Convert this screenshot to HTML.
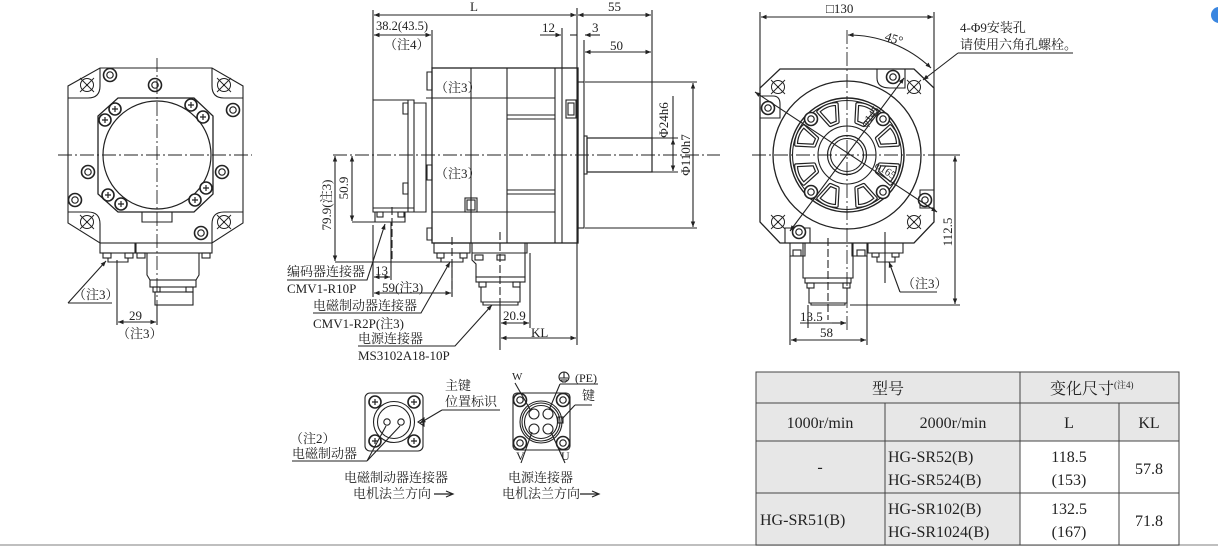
<!DOCTYPE html>
<html><head><meta charset="utf-8"><style>
html,body{margin:0;padding:0;background:#fff;}
svg{display:block;}
text{font-family:"Liberation Serif","Noto Serif CJK SC","Noto Sans CJK SC",serif;fill:#222;}
</style></head><body>
<svg width="1218" height="547" viewBox="0 0 1218 547" xmlns="http://www.w3.org/2000/svg">
<defs>
<marker id="a" viewBox="0 0 10 10" refX="10" refY="5" markerWidth="7" markerHeight="5" orient="auto-start-reverse"><path d="M0,1 L10,5 L0,9 z" fill="#222"/></marker>
<g id="bolt"><circle r="6.5" fill="#fff" stroke="#222" stroke-width="1.6"/><circle r="3.2" fill="none" stroke="#222" stroke-width="1.2"/></g>
<g id="sbolt"><circle r="6" fill="#fff" stroke="#222" stroke-width="1.6"/><path d="M-3,0H3M0,-3V3" stroke="#222" stroke-width="1.2"/></g>
<g id="xh"><circle r="6.5" fill="none" stroke="#222" stroke-width="1"/><path d="M-7,-7L7,7M-7,7L7,-7" stroke="#222" stroke-width="0.9"/><circle r="1" fill="#222"/></g>
<path id="win" d="M-4,-34 L4,-34 L10,-51 Q0,-55 -10,-51 Z"/>
</defs>
<g fill="none" stroke="#222" stroke-width="1.1">

<!-- ===== LEFT FRONT VIEW ===== -->
<path d="M100,68 H212 L243,86 V223 L212,243 H100 L68,223 V86 Z"/>
<path d="M100,68 V86 Q100,98 88,98 H68 M212,68 V86 Q212,98 224,98 H243 M68,212 H88 Q100,212 100,224 V243 M243,212 H224 Q212,212 212,224 V243"/>
<path d="M118,98 H194 L213,116 V194 L194,212 H118 L98,194 V116 Z" stroke-width="1.3"/>
<circle cx="157" cy="155" r="54" stroke-width="1.2"/>
<path d="M142,212 V222 H172 V212" />
<g stroke="none">
<use href="#xh" x="87" y="85"/><use href="#xh" x="224" y="85"/><use href="#xh" x="87" y="222"/><use href="#xh" x="224" y="222"/>
<use href="#bolt" x="110" y="75"/><use href="#bolt" x="155" y="85"/><use href="#bolt" x="233" y="110"/><use href="#bolt" x="88" y="172"/><use href="#bolt" x="222" y="172"/><use href="#bolt" x="75" y="200"/><use href="#bolt" x="201" y="233"/>
<use href="#sbolt" x="105" y="120"/><use href="#sbolt" x="115" y="109"/><use href="#sbolt" x="191" y="105"/><use href="#sbolt" x="203" y="117"/><use href="#sbolt" x="108" y="195"/><use href="#sbolt" x="121" y="204"/><use href="#sbolt" x="195" y="200"/><use href="#sbolt" x="206" y="188"/>
</g>
<rect x="100" y="243" width="35" height="10"/><rect x="103" y="253" width="8" height="5"/><rect x="125" y="253" width="8" height="5"/>
<path d="M108,258 V262 H128 V258"/>
<rect x="136" y="243" width="76" height="10"/><rect x="137" y="253" width="8" height="5"/><rect x="202" y="253" width="8" height="5"/>
<path d="M147,253 V275 L150,280 H196 L199,275 V253"/>
<rect x="150" y="280" width="46" height="7"/><rect x="153" y="287" width="7" height="5"/><rect x="186" y="287" width="7" height="5"/>
<rect x="155" y="292" width="38" height="13"/>
<path d="M157,58 V310 M58,155 H252" stroke-dasharray="14,3,2,3" stroke-width="0.9"/>
<path d="M117,260 V325 M157,305 V325"/>
<path d="M118,322 H156" marker-start="url(#a)" marker-end="url(#a)"/>
<path d="M68,303 H112 M68,303 L106,261" marker-end="url(#a)"/>

<!-- ===== SIDE VIEW ===== -->
<path d="M373,10 V100 M577,8 V345"/>
<path d="M374,15 H576" marker-start="url(#a)" marker-end="url(#a)"/>
<path d="M374,35 H431" marker-start="url(#a)" marker-end="url(#a)"/>
<path d="M432,30 V68"/>
<rect x="432" y="68" width="146" height="175" stroke-width="1.3"/>
<path d="M471,68 V243 M507,68 V243 M555,68 V243 M562,68 V243 M432,98 H555 M432,212 H555"/>
<path d="M507,115 H555 M507,119 H555 M507,190 H555 M507,194 H555"/>
<rect x="566" y="100" width="10" height="18"/><rect x="568" y="103" width="6" height="12"/>
<rect x="465" y="198" width="12" height="14"/><rect x="467" y="200" width="8" height="10"/>
<rect x="578" y="82" width="6" height="146"/>
<rect x="584" y="136" width="3" height="38"/>
<rect x="587" y="138" width="65" height="34" stroke-width="1.2"/>
<path d="M427,72 H432 V90 H427 Z M427,165 H432 V180 H427 Z M427,228 H432 V240 H427 Z"/>
<!-- encoder -->
<path d="M373,100 H414 V212 H373 Z" />
<path d="M408,100 V212 M414,103 H426 V212 H414 M426,98 H432"/>
<path d="M403,103 H408 V114 H403 Z M403,183 H408 V194 H403 Z"/>
<path d="M373,208 H414 M375,212 V222 H405 V212"/>
<rect x="377" y="212" width="6" height="5"/><rect x="398" y="212" width="6" height="5"/>
<path d="M392,207 V262" stroke-dasharray="8,3"/>
<!-- connectors under body -->
<rect x="434" y="243" width="36" height="10"/><rect x="437" y="253" width="7" height="5"/><rect x="460" y="253" width="7" height="5"/>
<path d="M441,258 V262 H463 V258"/>
<path d="M452,237 V296" stroke-dasharray="8,3"/>
<path d="M472,243 V253 H527 V243 M472,253 V260 L476,264 V277 H525 V243"/>
<rect x="475" y="255" width="8" height="5"/><rect x="497" y="255" width="8" height="5"/>
<rect x="476" y="277" width="49" height="5"/><rect x="479" y="282" width="7" height="5"/><rect x="513" y="282" width="7" height="5"/>
<path d="M481,287 V302 H520 V287"/><path d="M483,302 H518 V305 H483 Z"/>
<path d="M500,232 V305" stroke-dasharray="8,3"/>
<path d="M333,155 H720" stroke-dasharray="14,3,2,3" stroke-width="0.9"/>
<!-- 50.9 & 79.9 -->
<path d="M352,156 V221" marker-start="url(#a)" marker-end="url(#a)"/>
<path d="M352,222 H380"/>
<path d="M335,156 V261" marker-start="url(#a)" marker-end="url(#a)"/>
<path d="M335,262 H450"/>
<path d="M373,225 V297 M391,222 V280"/>
<path d="M374,277 H390" marker-start="url(#a)" marker-end="url(#a)"/>
<path d="M374,293 H451" marker-start="url(#a)" marker-end="url(#a)"/>
<path d="M452,262 V297"/>
<!-- leaders -->
<path d="M287,280 H367 L385,224" marker-end="url(#a)"/>
<path d="M313,313 H421 L450,262" marker-end="url(#a)"/>
<path d="M358,346 H455 L492,305" marker-end="url(#a)"/>
<!-- 20.9 KL -->
<path d="M500,305 V350 M530,253 V328"/>
<path d="M501,323 H529" marker-start="url(#a)" marker-end="url(#a)"/>
<path d="M501,338 H576" marker-start="url(#a)" marker-end="url(#a)"/>
<!-- right dims -->
<path d="M652,10 V138"/>
<path d="M578,15 H651" marker-start="url(#a)" marker-end="url(#a)"/>
<path d="M585,52 H651" marker-start="url(#a)" marker-end="url(#a)"/>
<path d="M562,28 V68 M584,40 V82"/>
<path d="M540,35 H561" marker-end="url(#a)"/><path d="M600,35 H585" marker-end="url(#a)"/><path d="M577,35 H570"/>
<path d="M652,138 H678 M652,172 H678 M585,82 H697 M585,228 H697"/>
<path d="M673,139 V171" marker-start="url(#a)" marker-end="url(#a)"/>
<path d="M673,96 V139"/>
<path d="M693,83 V227" marker-start="url(#a)" marker-end="url(#a)"/>

<!-- ===== RIGHT FRONT VIEW ===== -->
<path d="M780,69 H914 L934,88 V222 L914,243 H780 L760,222 V88 Z" stroke-width="1.3"/>
<path d="M877,69 V78 Q877,88 890,88 H905 V69 M760,96 H773 Q780,96 780,104 V118 H760 M785,243 V228 H810 V243 M934,190 H920 V208 H934"/>
<circle cx="847" cy="155" r="74" stroke-width="1.3"/>
<circle cx="847" cy="155" r="57" stroke-width="1.4"/>
<circle cx="847" cy="155" r="54.5" stroke-width="1.1"/>
<circle cx="847" cy="155" r="29"/>
<circle cx="847" cy="155" r="19.5" stroke-width="1.2"/>
<circle cx="847" cy="155" r="16.5"/>
<g transform="translate(847,155)">
<g stroke="#222" stroke-width="4" stroke-linejoin="round">
<use href="#win" transform="rotate(22.5)"/><use href="#win" transform="rotate(67.5)"/><use href="#win" transform="rotate(112.5)"/><use href="#win" transform="rotate(157.5)"/><use href="#win" transform="rotate(202.5)"/><use href="#win" transform="rotate(247.5)"/><use href="#win" transform="rotate(292.5)"/><use href="#win" transform="rotate(337.5)"/>
</g>
<g stroke="#fff" stroke-width="1.6" stroke-linejoin="round">
<use href="#win" transform="rotate(22.5)"/><use href="#win" transform="rotate(67.5)"/><use href="#win" transform="rotate(112.5)"/><use href="#win" transform="rotate(157.5)"/><use href="#win" transform="rotate(202.5)"/><use href="#win" transform="rotate(247.5)"/><use href="#win" transform="rotate(292.5)"/><use href="#win" transform="rotate(337.5)"/>
</g>
</g>
<g stroke="none">
<use href="#bolt" x="811" y="119"/><use href="#bolt" x="883" y="119"/><use href="#bolt" x="811" y="192"/><use href="#bolt" x="883" y="192"/>
<use href="#bolt" x="893" y="77"/><use href="#bolt" x="768" y="108"/><use href="#bolt" x="925" y="200"/><use href="#bolt" x="799" y="232"/>
<use href="#xh" x="778" y="87"/><use href="#xh" x="914" y="87"/><use href="#xh" x="778" y="222"/><use href="#xh" x="914" y="222"/>
</g>
<path d="M752,155 H936 M847,30 V330" stroke-dasharray="14,3,2,3" stroke-width="0.9"/>
<path d="M755,92 L937,212" marker-start="url(#a)" marker-end="url(#a)"/>
<path d="M790,231 L904,78" marker-start="url(#a)" marker-end="url(#a)"/>
<path d="M760,12 V88 M934,12 V88"/>
<path d="M761,17 H933" marker-start="url(#a)" marker-end="url(#a)"/>
<path d="M848,35 A120,120 0 0 1 931,68" marker-start="url(#a)" marker-end="url(#a)"/>
<path d="M958,53 H1073 M958,53 L923,80" marker-end="url(#a)"/>
<!-- bottom connectors right -->
<path d="M790,243 V256 H805 V243 M852,243 V256 H867 V243"/>
<rect x="793" y="250" width="8" height="6"/><rect x="857" y="250" width="8" height="6"/>
<path d="M803,243 V278 H853 V243"/>
<rect x="805" y="278" width="46" height="5"/><rect x="807" y="283" width="7" height="5"/><rect x="843" y="283" width="7" height="5"/>
<path d="M809,288 V303 H847 V288"/><path d="M811,303 H845 V305 H811 Z"/>
<path d="M828,238 V320" stroke-dasharray="8,3"/>
<path d="M868,243 V253 H903 V243"/><rect x="872" y="253" width="7" height="4"/><rect x="892" y="253" width="7" height="4"/>
<path d="M877,257 V262 H895 V257 M885,232 V283" />
<path d="M900,292 H937 M900,292 L889,262" marker-end="url(#a)"/>
<path d="M790,256 V345 M867,256 V345 M808,305 V328"/>
<path d="M791,340 H866" marker-start="url(#a)" marker-end="url(#a)"/>
<path d="M800,323 H846" />
<path d="M832,323 H846" marker-end="url(#a)"/>
<path d="M935,155 H960 M850,305 H960"/>
<path d="M955,156 V304" marker-start="url(#a)" marker-end="url(#a)"/>

<!-- ===== BOTTOM CONNECTOR DETAILS ===== -->
<rect x="365" y="393" width="58" height="58" rx="5"/>
<circle cx="394" cy="422" r="20.5"/><circle cx="394" cy="422" r="16.5"/>
<circle cx="387" cy="422" r="3.2"/><circle cx="401" cy="422" r="3.2"/>
<path d="M418,422 L424,418 L424,426 Z"/>
<g stroke="none"><use href="#sbolt" x="375" y="402"/><use href="#sbolt" x="414" y="402"/><use href="#sbolt" x="375" y="441"/><use href="#sbolt" x="414" y="441"/></g>
<path d="M442,410 H500 M442,410 L420,423" marker-end="url(#a)"/>
<path d="M292,461 H367 M367,461 L386,426 M367,461 L400,426"/>
<rect x="513" y="393" width="57" height="57" rx="4"/>
<circle cx="541" cy="422" r="21"/><circle cx="541" cy="422" r="19"/><circle cx="541" cy="422" r="16.5"/>
<circle cx="534" cy="414" r="5"/><circle cx="548" cy="414" r="5"/><circle cx="534" cy="429" r="5"/><circle cx="548" cy="429" r="5"/>
<rect x="558" y="417" width="5" height="6"/>
<g stroke="none"><use href="#bolt" x="520" y="400"/><use href="#bolt" x="563" y="400"/><use href="#bolt" x="520" y="443"/><use href="#bolt" x="563" y="443"/></g>
<path d="M515,383 L531,411 M560,384 H598 M560,384 L549,410 M575,405 H592 M575,405 L562,419 M521,463 L532,432 M565,463 L551,432"/>
<circle cx="564" cy="377" r="5"/><path d="M564,372 V378 M560,378 H568 M561,380 H567 M562,382 H566"/>
<path d="M434,494 H452 M580,494 H598" stroke-width="1.2"/>
<path d="M446,491 L453,494 L446,497 M592,491 L599,494 L592,497" stroke-width="1.2"/>

<!-- bottom rule -->
<path d="M0,545 H1218" stroke="#aaa" stroke-width="1.5"/>
</g>

<!-- TABLE -->
<g stroke="#444" stroke-width="1">
<rect x="756" y="372" width="423" height="69" fill="#e7e7e7"/>
<rect x="756" y="441" width="264" height="104" fill="#e7e7e7"/>
<rect x="1020" y="441" width="159" height="104" fill="#fff"/>
<path d="M756,403 H1179 M756,441 H1179 M756,493 H1179 M885,403 V545 M1020,372 V545 M1119,403 V545 M756,372 V545 M1179,372 V545" fill="none"/>
</g>
<circle cx="1219" cy="15" r="8" fill="#3a86e0"/>

<!-- TEXT -->
<g font-size="13">
<text x="474" y="11" text-anchor="middle">L</text>
<text x="376" y="30" font-size="12.5">38.2(43.5)</text>
<text x="384" y="49">（注4）</text>
<text x="542" y="32">12</text>
<text x="592" y="32">3</text>
<text x="608" y="11">55</text>
<text x="610" y="50">50</text>
<text x="435" y="92">（注3）</text>
<text x="435" y="178">（注3）</text>
<text transform="translate(348,188) rotate(-90)" text-anchor="middle">50.9</text>
<text transform="translate(331,205) rotate(-90)" text-anchor="middle">79.9(注3)</text>
<text transform="translate(668,120) rotate(-90)" text-anchor="middle">Φ24h6</text>
<text transform="translate(690,155) rotate(-90)" text-anchor="middle">Φ110h7</text>
<text x="287" y="276">编码器连接器</text>
<text x="375" y="275">13</text>
<text x="287" y="293">CMV1-R10P</text>
<text x="382" y="292">59(注3)</text>
<text x="313" y="310">电磁制动器连接器</text>
<text x="313" y="328">CMV1-R2P(注3)</text>
<text x="358" y="343">电源连接器</text>
<text x="358" y="360">MS3102A18-10P</text>
<text x="503" y="320">20.9</text>
<text x="531" y="337">KL</text>
<text x="73" y="299">（注3）</text>
<text x="129" y="320">29</text>
<text x="117" y="338">（注3）</text>
<text x="826" y="13">□130</text>
<text transform="translate(884,40) rotate(18)">45°</text>
<text x="960" y="32">4-Φ9安装孔</text>
<text x="960" y="49">请使用六角孔螺栓。</text>
<text transform="translate(866,128) rotate(-53)" font-size="11">φ145</text>
<text transform="translate(874,167) rotate(33)" font-size="11">φ165</text>
<text transform="translate(952,232) rotate(-90)" text-anchor="middle">112.5</text>
<text x="902" y="288">（注3）</text>
<text x="800" y="321">13.5</text>
<text x="820" y="337">58</text>
<text x="445" y="390">主键</text>
<text x="445" y="406">位置标识</text>
<text x="290" y="443">（注2）</text>
<text x="292" y="458">电磁制动器</text>
<text x="344" y="482">电磁制动器连接器</text>
<text x="353" y="498">电机法兰方向</text>
<text x="512" y="380" font-size="11">W</text>
<text x="575" y="382" font-size="12">(PE)</text>
<text x="582" y="400">键</text>
<text x="516" y="460" font-size="12">V</text>
<text x="561" y="460" font-size="12">U</text>
<text x="508" y="482">电源连接器</text>
<text x="502" y="498">电机法兰方向</text>
</g>
<g font-size="16">
<text x="888" y="394" text-anchor="middle">型号</text>
<text x="1050" y="394">变化尺寸</text><text x="1114" y="388" font-size="9">(注4)</text>
<text x="820" y="428" text-anchor="middle">1000r/min</text>
<text x="953" y="428" text-anchor="middle">2000r/min</text>
<text x="1069" y="428" text-anchor="middle">L</text>
<text x="1149" y="428" text-anchor="middle">KL</text>
<text x="820" y="472" text-anchor="middle">-</text>
<text x="888" y="462">HG-SR52(B)</text>
<text x="888" y="485">HG-SR524(B)</text>
<text x="1069" y="462" text-anchor="middle">118.5</text>
<text x="1069" y="485" text-anchor="middle">(153)</text>
<text x="1149" y="474" text-anchor="middle">57.8</text>
<text x="760" y="525">HG-SR51(B)</text>
<text x="888" y="514">HG-SR102(B)</text>
<text x="888" y="537">HG-SR1024(B)</text>
<text x="1069" y="514" text-anchor="middle">132.5</text>
<text x="1069" y="537" text-anchor="middle">(167)</text>
<text x="1149" y="526" text-anchor="middle">71.8</text>
</g>
</svg>
</body></html>
